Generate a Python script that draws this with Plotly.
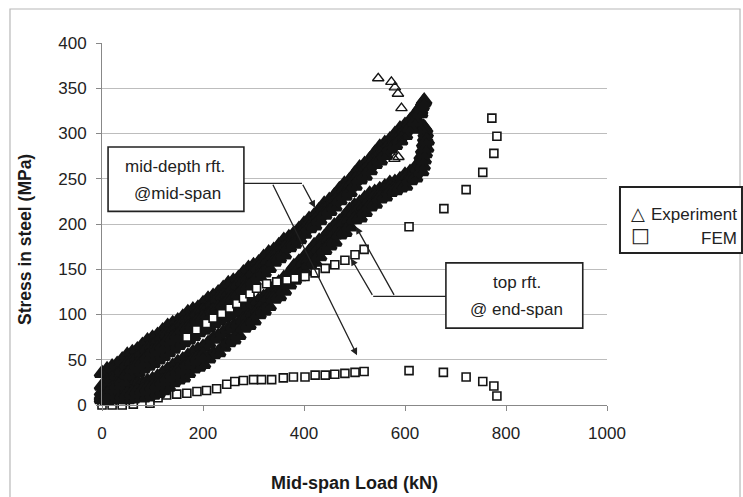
import plotly.graph_objects as go

# ---------------- data ----------------
# Experiment, mid-depth reinforcement at mid-span (upper dense band)
exp_mid_load = [0, 10, 20, 30, 40, 50, 60, 70, 80, 90, 100, 110, 120, 130, 140, 150, 160, 170, 180, 190,
                200, 210, 220, 230, 240, 250, 260, 270, 280, 290, 300, 310, 320, 330, 340, 350, 360, 370, 380, 390,
                400, 410, 420, 430, 440, 450, 460, 470, 480, 490, 500, 510, 520, 530, 540, 550, 560, 570, 580, 590,
                600, 610, 620, 630]
exp_mid_stress_hi = [35, 39, 42, 45, 50, 55, 58, 61, 66, 71, 74, 77, 82, 87, 90, 93, 97, 102, 105, 107,
                     112, 117, 120, 124, 129, 134, 137, 140, 146, 151, 154, 157, 163, 168, 171, 176, 182, 185, 189, 194,
                     200, 205, 209, 215, 222, 226, 231, 238, 244, 248, 255, 262, 266, 271, 278, 285, 289, 293, 299, 305,
                     309, 314, 321, 328]
exp_mid_stress_md = [21, 26, 29, 33, 38, 45, 48, 52, 57, 62, 65, 70, 75, 78, 81, 86, 90, 93, 96, 101,
                     104, 107, 112, 117, 120, 122, 128, 133, 136, 140, 146, 151, 153, 159, 165, 169, 173, 179, 185, 188,
                     194, 200, 203, 209, 216, 220, 225, 231, 238, 241, 248, 255, 259, 265, 272, 277, 281, 288, 294, 297,
                     303, 311, 317, 325]
exp_mid_stress_lo = [8, 12, 18, 22, 26, 34, 40, 44, 47, 53, 59, 62, 65, 71, 74, 77, 83, 85, 88, 93,
                     96, 99, 104, 107, 110, 115, 118, 122, 128, 131, 136, 142, 146, 151, 158, 162, 166, 174, 178, 183,
                     189, 195, 198, 204, 210, 214, 219, 226, 231, 235, 242, 249, 253, 259, 266, 270, 276, 283, 287, 292,
                     298, 306, 313, 322]
exp_mid_tip_load = [633, 636, 638]
exp_mid_tip_stress = [330, 334, 336]
exp_mid_tail_load = [547, 573, 580, 586, 593, 594, 587, 579]
exp_mid_tail_stress = [361, 357, 351, 344, 328, 291, 274, 272]

# Experiment, top reinforcement at end-span (lower dense band)
exp_top_load = [0, 10, 20, 30, 40, 50, 60, 70, 80, 90, 100, 110, 120, 130, 140, 150, 160, 170, 180, 190,
                200, 210, 220, 230, 240, 250, 260, 270, 280, 290, 300, 310, 320, 330, 340, 350, 360, 370, 380, 390,
                400, 410, 420, 430, 440, 450, 460, 470, 480, 490, 500, 510, 520, 530, 540, 550, 560, 570, 580, 590,
                600, 610, 620]
exp_top_stress_hi = [14, 16, 18, 20, 24, 28, 32, 36, 40, 43, 46, 50, 54, 58, 62, 66, 69, 72, 76, 80,
                     83, 86, 90, 93, 96, 99, 102, 105, 108, 111, 113, 115, 119, 123, 130, 135, 140, 145, 153, 158,
                     163, 169, 176, 181, 185, 192, 198, 202, 208, 215, 220, 223, 228, 233, 235, 238, 241, 245, 246, 249,
                     254, 257, 262]
exp_top_stress_md = [10, 9, 11, 13, 15, 17, 19, 22, 24, 26, 28, 31, 35, 39, 43, 47, 50, 54, 58, 61,
                     64, 68, 73, 76, 80, 84, 87, 90, 94, 98, 101, 105, 112, 118, 121, 127, 134, 139, 144, 150,
                     157, 160, 166, 173, 179, 183, 188, 196, 201, 205, 212, 217, 219, 225, 230, 232, 236, 240, 240, 244,
                     249, 251, 256]
exp_top_stress_lo = [6, 5, 6, 7, 6, 6, 7, 9, 8, 9, 11, 13, 16, 20, 25, 28, 30, 35, 40, 42,
                     45, 51, 56, 58, 64, 69, 72, 77, 85, 88, 93, 100, 104, 109, 117, 120, 126, 133, 138, 142,
                     148, 155, 158, 164, 171, 176, 180, 188, 191, 197, 205, 207, 213, 219, 222, 228, 230, 235, 237, 240,
                     242, 248, 251]
# extra readings in the early loading stage, where the trace is widest
exp_top_early_load = [20, 30, 40, 50, 60, 70, 80, 90, 100, 110, 120, 130, 140, 150, 160, 170, 180, 190, 200]
exp_top_early_stress = [9, 10, 11, 12, 13, 15, 16, 18, 20, 22, 26, 30, 34, 38, 40, 45, 49, 52, 55]
exp_top_hook_load = [626, 630, 633, 636, 638, 640, 641, 640, 637, 633, 628, 632, 635, 637, 639, 642, 643]
exp_top_hook_stress = [262, 268, 275, 282, 289, 295, 300, 305, 307, 307, 305, 258, 264, 271, 278, 284, 292]

# FEM, top reinforcement at end-span (points clear of the experimental bands)
fem_top_load = [168, 187, 207, 220, 237, 253, 267, 280, 293, 306,
                326, 346, 366, 382, 402, 422, 442, 461, 481, 501, 519, 608, 677, 721, 754, 776, 782, 772]
fem_top_stress = [75, 83, 90, 96, 101, 107, 112, 118, 123, 129,
                  134, 136, 138, 140, 142, 146, 151, 155, 160, 166, 172, 197, 217, 238, 257, 278, 297, 317]

# FEM, mid-depth reinforcement at mid-span
fem_mid_load = [0, 20, 40, 62, 95, 111, 128, 148, 168, 188, 207, 227, 247, 263, 280, 300, 316, 336,
                359, 379, 402, 422, 442, 461, 481, 501, 519, 608, 676, 721, 754, 776, 782]
fem_mid_stress = [0, 0, 0, 1, 2, 8, 11, 12, 13, 15, 16, 18, 23, 26, 27, 28, 28, 28,
                  30, 31, 31, 33, 33, 34, 35, 36, 37, 38, 36, 31, 26, 21, 10]

x_ticks = [0, 200, 400, 600, 800, 1000]
y_ticks = [0, 50, 100, 150, 200, 250, 300, 350, 400]

# ---------------- styles ----------------
INK = "#141414"
FONT = "Liberation Sans, Arial, sans-serif"

# overlapping readings merge into a solid band
tri_dense = dict(symbol="triangle-up", size=12, color=INK, line=dict(width=3.5, color=INK))
tri_single = dict(symbol="triangle-up-open", size=10, color=INK, line=dict(width=1.4, color=INK))
square = dict(symbol="square", size=8, color="white", line=dict(width=1.6, color=INK))

fig = go.Figure()


def add(xs, ys, marker):
    fig.add_trace(go.Scatter(x=xs, y=ys, mode="markers", marker=marker,
                             cliponaxis=False, hoverinfo="skip"))


# FEM squares at mid-depth sit beneath the bands near the origin
add(fem_mid_load, fem_mid_stress, square)
for ys in (exp_top_stress_hi, exp_top_stress_md, exp_top_stress_lo):
    add(exp_top_load, ys, tri_dense)
add(exp_top_early_load, exp_top_early_stress, tri_dense)
add(exp_top_hook_load, exp_top_hook_stress, tri_dense)
for ys in (exp_mid_stress_hi, exp_mid_stress_md, exp_mid_stress_lo):
    add(exp_mid_load, ys, tri_dense)
add(exp_mid_tip_load, exp_mid_tip_stress, tri_dense)
add(exp_mid_tail_load, exp_mid_tail_stress, tri_single)
add(fem_top_load, fem_top_stress, square)

# ---------------- callout boxes and arrows ----------------
shapes = []
annotations = []

line_style = dict(color="#222", width=1.3)
box_style = dict(color="#222", width=1.6)
txt = dict(size=17, family=FONT, color="#222")

# mid-depth rft. @mid-span
shapes.append(dict(type="rect", xref="x", yref="y", x0=12, x1=281, y0=214, y1=285,
                   line=box_style, fillcolor="white", layer="above"))
shapes.append(dict(type="line", xref="x", yref="y", x0=281, x1=396, y0=245, y1=245, line=line_style))
annotations.append(dict(x=145, y=263, xref="x", yref="y", text="mid-depth rft.", showarrow=False, font=txt))
annotations.append(dict(x=149, y=234, xref="x", yref="y", text="@mid-span", showarrow=False, font=txt))
for hx, hy, tx, ty in [(422, 218, 396, 245), (505, 55, 337, 245)]:
    annotations.append(dict(x=hx, y=hy, ax=tx, ay=ty, xref="x", yref="y", axref="x", ayref="y",
                            text="", showarrow=True, arrowhead=2, arrowsize=1.1, arrowwidth=1.3,
                            arrowcolor="#222", standoff=0, startstandoff=0))

# top rft. @ end-span
shapes.append(dict(type="rect", xref="x", yref="y", x0=681, x1=952, y0=85, y1=157,
                   line=box_style, fillcolor="white", layer="above"))
shapes.append(dict(type="line", xref="x", yref="y", x0=537, x1=681, y0=120, y1=120, line=line_style))
annotations.append(dict(x=822, y=135, xref="x", yref="y", text="top rft.", showarrow=False, font=txt))
annotations.append(dict(x=820, y=105, xref="x", yref="y", text="@ end-span", showarrow=False, font=txt))
for hx, hy, tx, ty in [(503, 197, 580, 120), (493, 162, 537, 120)]:
    annotations.append(dict(x=hx, y=hy, ax=tx, ay=ty, xref="x", yref="y", axref="x", ayref="y",
                            text="", showarrow=True, arrowhead=2, arrowsize=1.1, arrowwidth=1.3,
                            arrowcolor="#222", standoff=0, startstandoff=0))

# ---------------- legend box ----------------
shapes.append(dict(type="rect", xref="paper", yref="paper", x0=1.0257, x1=1.2673, y0=0.4199, y1=0.6022,
                   line=dict(color="#222", width=2), fillcolor="white", layer="above"))
annotations.append(dict(x=1.0436, y=0.529, xref="paper", yref="paper", xanchor="left", yanchor="middle",
                        text="△", showarrow=False, font=dict(size=18, family="DejaVu Sans", color="#222")))
annotations.append(dict(x=1.083, y=0.5276, xref="paper", yref="paper", xanchor="left", yanchor="middle",
                        text="Experiment", showarrow=False, font=txt))
annotations.append(dict(x=1.0436, y=0.4696, xref="paper", yref="paper", xanchor="left", yanchor="middle",
                        text="□", showarrow=False, font=dict(size=20, family="DejaVu Sans", color="#222")))
annotations.append(dict(x=1.2614, y=0.461, xref="paper", yref="paper", xanchor="right", yanchor="middle",
                        text="FEM", showarrow=False, font=txt))

# ---------------- axis titles ----------------
annotations.append(dict(x=0.5, y=-0.2155, xref="paper", yref="paper", xanchor="center", yanchor="middle",
                        text="<b>Mid-span Load (kN)</b>", showarrow=False,
                        font=dict(size=18, family=FONT, color="#1a1a1a")))
annotations.append(dict(x=-0.1525, y=0.4586, xref="paper", yref="paper", xanchor="center", yanchor="middle",
                        text="<b>Stress in steel (MPa)</b>", showarrow=False, textangle=-90,
                        font=dict(size=17.5, family=FONT, color="#1a1a1a")))

# outer chart frame
shapes.append(dict(type="rect", xref="paper", yref="paper", x0=-0.1822, x1=1.2634, y0=-0.32, y1=1.0939,
                   line=dict(color="#b8b8b8", width=1.2), fillcolor="rgba(0,0,0,0)", layer="below"))

fig.update_layout(
    width=743, height=497,
    margin=dict(l=102, r=136, t=43, b=92),
    paper_bgcolor="white", plot_bgcolor="white",
    showlegend=False,
    font=dict(family=FONT, size=17, color="#222"),
    shapes=shapes, annotations=annotations,
    xaxis=dict(range=[0, 1000], tickvals=x_ticks, ticks="outside", ticklen=5, tickcolor="#888",
               showline=True, linecolor="#888", linewidth=1, showgrid=False, zeroline=False,
               tickfont=dict(size=17, family=FONT, color="#222"), ticklabelstandoff=8, fixedrange=True),
    yaxis=dict(range=[0, 400], tickvals=y_ticks, ticks="outside", ticklen=5, tickcolor="#888",
               showline=True, linecolor="#888", linewidth=1, showgrid=True, gridcolor="#bdbdbd",
               gridwidth=1, zeroline=False,
               tickfont=dict(size=17, family=FONT, color="#222"), ticklabelstandoff=6, fixedrange=True),
)

fig.write_html("out.html")
